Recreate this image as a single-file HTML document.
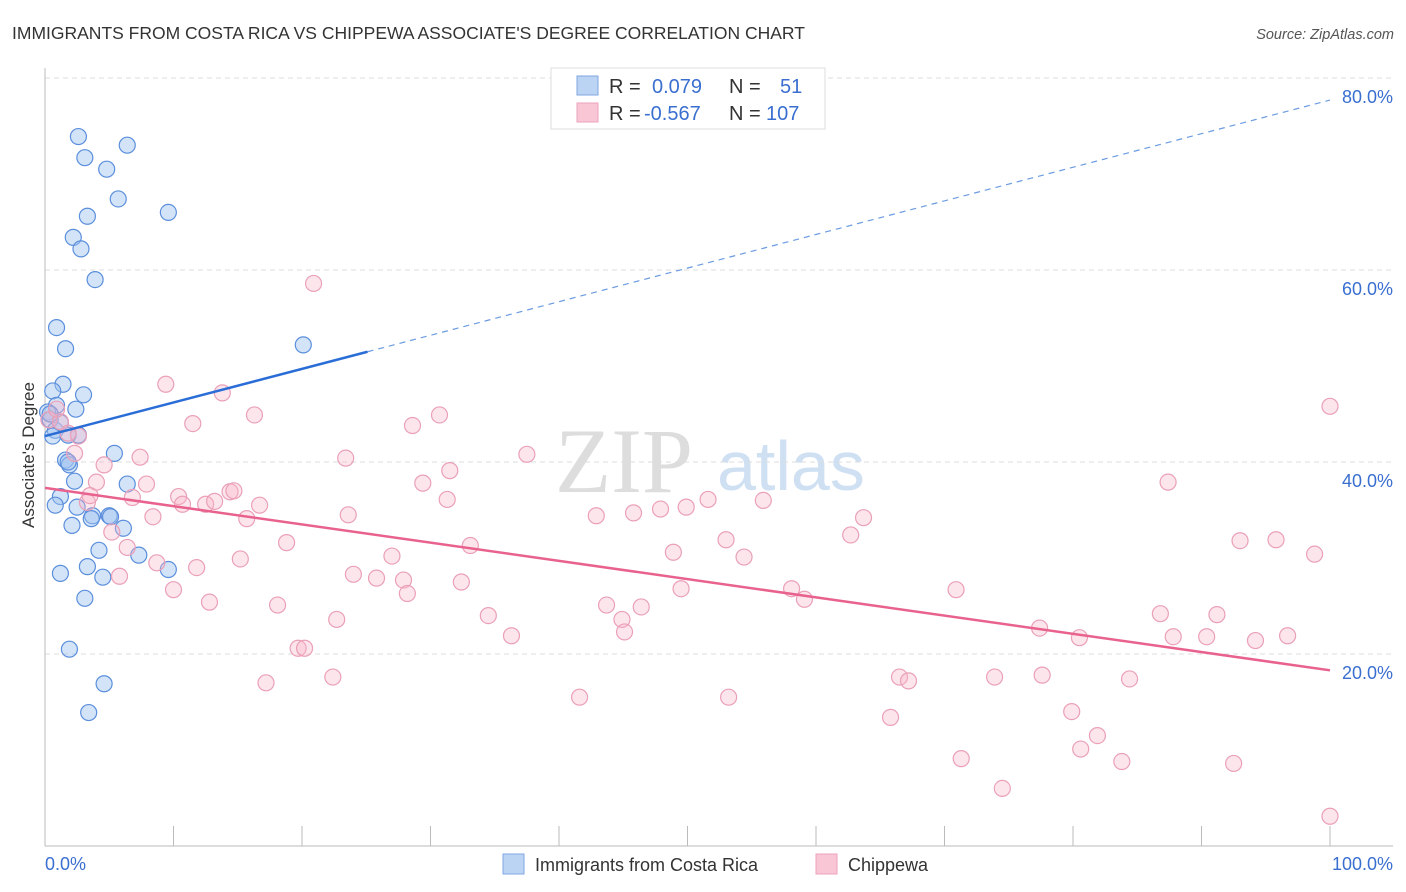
<!DOCTYPE html>
<html><head><meta charset="utf-8"><style>
body{margin:0;background:#fff;font-family:"Liberation Sans",sans-serif;}
svg{display:block}
</style></head><body>
<svg id="chart" width="1406" height="892" xmlns="http://www.w3.org/2000/svg">
<text x="12" y="39" font-size="17.5" fill="#333">IMMIGRANTS FROM COSTA RICA VS CHIPPEWA ASSOCIATE'S DEGREE CORRELATION CHART</text>
<text x="1394" y="39" font-size="14.5" fill="#555" font-style="italic" text-anchor="end">Source: ZipAtlas.com</text>
<g>
<text x="555" y="492" font-size="92" fill="#ddd" font-family="Liberation Serif,serif">ZIP</text>
<text x="717" y="490" font-size="70" fill="#cfe0f3">atlas</text>
</g>
<g id="grid"></g>
<g id="axes"></g>
<g id="blue"></g>
<g id="pink"></g>
<g id="lines"></g>
<text transform="translate(34,455) rotate(-90)" font-size="17" fill="#333" text-anchor="middle">Associate's Degree</text>
<g>
<rect x="551" y="68" width="274" height="61" fill="#fff" stroke="#ddd"/>
<rect x="577" y="76" width="21" height="19" fill="#bcd4f4" stroke="#7fa6e0"/>
<rect x="577" y="103" width="21" height="19" fill="#f9c6d5" stroke="#eca3bb"/>
<text y="93" font-size="20"><tspan x="609" fill="#333">R =</tspan><tspan x="652" fill="#3a6fd0">0.079</tspan><tspan x="729" fill="#333">N =</tspan><tspan x="780" fill="#3a6fd0">51</tspan></text>
<text y="120" font-size="20"><tspan x="609" fill="#333">R =</tspan><tspan x="644" fill="#3a6fd0">-0.567</tspan><tspan x="729" fill="#333">N =</tspan><tspan x="766" fill="#3a6fd0">107</tspan></text>
</g>
<g>
<rect x="503" y="854" width="21" height="20" fill="#bcd4f4" stroke="#7fa6e0"/>
<text x="535" y="871" font-size="18" fill="#333">Immigrants from Costa Rica</text>
<rect x="816" y="854" width="21" height="20" fill="#f9c6d5" stroke="#eca3bb"/>
<text x="848" y="871" font-size="18" fill="#333">Chippewa</text>
</g>
</svg>
<script>
const blueX=[2.6,3.1,6.4,4.8,5.7,3.3,9.6,2.2,2.8,3.9,0.9,1.6,1.4,0.6,3.0,0.9,2.4,0.2,0.4,0.8,1.2,0.6,1.8,2.6,5.4,1.6,1.9,2.3,6.4,1.2,0.8,2.5,3.7,5.0,3.6,2.1,6.1,4.2,7.3,3.3,1.2,4.5,9.6,3.1,1.9,4.6,3.4,20.1,5.1,1.8,0.4];
const blueY=[73.9,71.7,73.0,70.5,67.4,65.6,66.0,63.4,62.2,59.0,54.0,51.8,48.1,47.4,47.0,45.9,45.5,45.2,44.4,43.3,44.1,42.7,42.8,42.8,40.9,40.2,39.7,38.0,37.7,36.4,35.5,35.3,34.4,34.4,34.1,33.4,33.1,30.8,30.3,29.1,28.4,28.0,28.8,25.8,20.5,16.9,13.9,52.2,34.3,40.0,45.0];
const pinkX=[20.9,9.4,13.8,11.5,16.3,28.6,30.7,23.4,7.4,37.5,31.5,29.4,4.6,2.3,0.3,1.2,2.6,4.0,3.3,5.2,6.4,6.8,7.9,8.4,10.4,10.7,12.5,13.2,14.4,14.7,15.7,16.7,18.8,23.6,31.3,33.1,27.0,24.0,25.8,27.9,28.2,32.4,15.2,11.8,8.7,5.8,10.0,12.8,18.1,22.7,19.7,20.2,17.2,22.4,34.5,36.3,41.6,42.9,43.7,44.9,45.1,45.8,46.4,47.9,48.9,49.5,49.9,51.6,53.0,54.4,55.9,53.2,58.1,59.1,62.7,63.7,66.5,67.2,65.8,70.9,71.3,73.9,74.5,77.4,77.6,79.9,80.5,80.6,81.9,83.8,84.4,86.8,87.8,90.4,91.2,93.0,94.2,95.8,96.7,98.8,100,100,92.5,87.4,0.9,1.8,3.5];
const pinkY=[58.6,48.1,47.2,44.0,44.9,43.8,44.9,40.4,40.5,40.8,39.1,37.8,39.7,40.9,44.4,44.2,42.7,37.9,35.8,32.7,31.1,36.3,37.7,34.3,36.4,35.6,35.6,35.9,36.9,37.0,34.1,35.5,31.6,34.5,36.1,31.3,30.2,28.3,27.9,27.7,26.3,27.5,29.9,29.0,29.5,28.1,26.7,25.4,25.1,23.6,20.6,20.6,17.0,17.6,24.0,21.9,15.5,34.4,25.1,23.6,22.3,34.7,24.9,35.1,30.6,26.8,35.3,36.1,31.9,30.1,36.0,15.5,26.8,25.7,32.4,34.2,17.6,17.2,13.4,26.7,9.1,17.6,6.0,22.7,17.8,14.0,21.7,10.1,11.5,8.8,17.4,24.2,21.8,21.8,24.1,31.8,21.4,31.9,21.9,30.4,45.8,3.1,8.6,37.9,45.5,43.0,36.5];
const yTicks=[20,40,60,80];
const yTickLabels=["20.0%","40.0%","60.0%","80.0%"];
const xTicks=[0,10,20,30,40,50,60,70,80,90,100];
const blueTrend=[42.7,77.7]; // y at x=0 and x=100
const blueSolidEnd=25.1;
const pinkTrend=[37.3,18.3];

const NS="http://www.w3.org/2000/svg";
const X=v=>45+v*12.85, Y=v=>846-v*9.6;
function mk(tag,attrs,parent){const e=document.createElementNS(NS,tag);for(const k in attrs)e.setAttribute(k,attrs[k]);parent.appendChild(e);return e;}
const grid=document.getElementById('grid'),axes=document.getElementById('axes');
yTicks.forEach((t,i)=>{
  const l=mk('line',{x1:45,x2:1393,y1:Y(t),y2:Y(t),stroke:'#ddd','stroke-dasharray':'5,4'},grid);
  
  
  const tx=mk('text',{x:1393,y:Y(t)+25,'font-size':18,fill:'#3a6fd0','text-anchor':'end'},axes);
  tx.textContent=yTickLabels[i];
  
  
});
const ya=mk('line',{x1:45,x2:45,y1:68,y2:846,stroke:'#bbb'},axes);


const xa=mk('line',{x1:45,x2:1393,y1:846,y2:846,stroke:'#bbb'},axes);


xTicks.forEach(t=>{
  const tk=mk('line',{x1:X(t),x2:X(t),y1:826,y2:846,stroke:'#bbb'},axes);
  
  
});
const x0=mk('text',{x:45,y:870,'font-size':18,fill:'#3a6fd0'},axes);x0.textContent='0.0%';


const x1=mk('text',{x:1393,y:870,'font-size':18,fill:'#3a6fd0','text-anchor':'end'},axes);x1.textContent='100.0%';



function pts(xs,ys,g,fill,stroke,name){xs.forEach((v,i)=>{
  const c=mk('circle',{cx:X(v),cy:Y(ys[i]),r:8,fill:fill,stroke:stroke,'stroke-width':1.2},g);
  
  
});}
pts(blueX,blueY,document.getElementById('blue'),'rgba(160,195,240,0.45)','#5b8fdc','costa-rica-point');
pts(pinkX,pinkY,document.getElementById('pink'),'rgba(248,180,200,0.35)','#eaa0b8','chippewa-point');
const lg=document.getElementById('lines');
const by=x=>blueTrend[0]+(blueTrend[1]-blueTrend[0])*x/100;
const b1=mk('line',{x1:X(0),y1:Y(by(0)),x2:X(blueSolidEnd),y2:Y(by(blueSolidEnd)),stroke:'#2a6dd6','stroke-width':2.5},lg);


const b2=mk('line',{x1:X(blueSolidEnd),y1:Y(by(blueSolidEnd)),x2:X(100),y2:Y(by(100)),stroke:'#6b9be0','stroke-width':1.2,'stroke-dasharray':'6,5'},lg);


const p1=mk('line',{x1:X(0),y1:Y(pinkTrend[0]),x2:X(100),y2:Y(pinkTrend[1]),stroke:'#e8628d','stroke-width':2.5},lg);


</script>
</body></html>
